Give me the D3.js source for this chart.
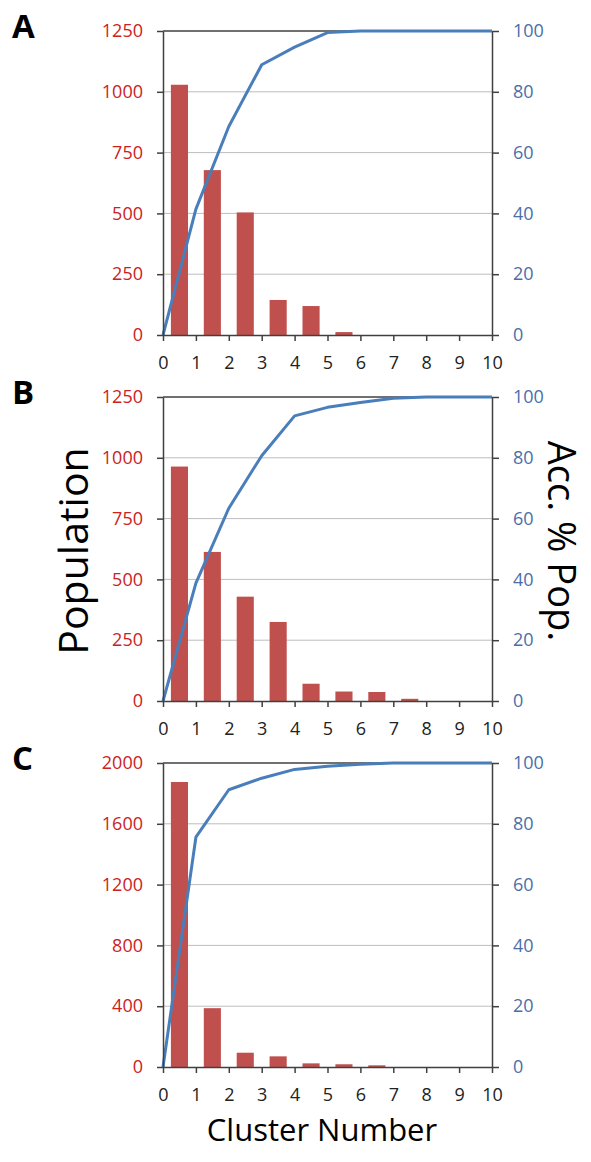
<!DOCTYPE html>
<html>
<head>
<meta charset="utf-8">
<script src="https://cdn.jsdelivr.net/npm/d3@7"></script>
<style>
  body { margin: 0; background: #fff; }
  svg { display: block; font-family: "Open Sans", sans-serif; }
</style>
</head>
<body>
<script>
// cluster numbers on the x axis
const clusterTicks = [0, 1, 2, 3, 4, 5, 6, 7, 8, 9, 10];
const barClusters = [0, 1, 2, 3, 4, 5, 6, 7, 8, 9];

// population per cluster (bars, left axis)
const popA = [1029, 678, 504, 144, 119, 12, 0, 0, 0, 0];
const popB = [964, 613, 429, 325, 71, 39, 37, 9, 0, 0];
const popC = [1875, 387, 94, 70, 24, 18, 11, 0, 0, 0];

// accumulated % population (line, right axis)
const accA = [0, 41.4, 68.6, 88.9, 94.7, 99.5, 100, 100, 100, 100, 100];
const accB = [0, 38.8, 63.4, 80.7, 93.8, 96.6, 98.2, 99.6, 100, 100, 100];
const accC = [0, 75.6, 91.2, 95.0, 97.9, 98.9, 99.6, 100, 100, 100, 100];

// tick labels
const popTicksAB = [0, 250, 500, 750, 1000, 1250];
const popTicksC = [0, 400, 800, 1200, 1600, 2000];
const accTicks = [0, 20, 40, 60, 80, 100];

const panelLetters = ["A", "B", "C"];

let svg = d3.select("body").append("svg")
  .attr("width", 591)
  .attr("height", 1162);

let left = 163, right = 492, plotH = 304;
let panelTops = [31, 397, 763];

let xScale = d3.scaleLinear().domain([0, 10]).range([left, right]);

function drawPanel(i, pop, acc, popTicks) {
  let top = panelTops[i];
  let bottom = top + plotH;
  let g = svg.append("g");

  let yPop = d3.scaleLinear().domain([0, popTicks[popTicks.length - 1]]).range([bottom, top]);
  let yAcc = d3.scaleLinear().domain([0, 100]).range([bottom, top]);

  // gridlines
  g.selectAll(".grid")
    .data(popTicks.slice(1, -1))
    .enter().append("line")
    .attr("x1", left).attr("x2", right)
    .attr("y1", d => yPop(d)).attr("y2", d => yPop(d))
    .attr("stroke", "#bdbdbd")
    .attr("stroke-width", 1);

  // top border
  g.append("line")
    .attr("x1", left).attr("x2", right)
    .attr("y1", top).attr("y2", top)
    .attr("stroke", "#404040")
    .attr("stroke-width", 1.5);

  // bars
  g.selectAll(".bar")
    .data(barClusters)
    .enter().append("rect")
    .filter(d => pop[d] > 0)
    .attr("x", d => xScale(d + 0.24))
    .attr("width", xScale(0.52) - xScale(0))
    .attr("y", d => yPop(pop[d]))
    .attr("height", d => bottom - yPop(pop[d]))
    .attr("fill", "#c0504d");

  // accumulated line
  let line = d3.line()
    .x((d, k) => xScale(clusterTicks[k]))
    .y(d => yAcc(d));
  g.append("path")
    .datum(acc)
    .attr("fill", "none")
    .attr("stroke", "#4a7ebb")
    .attr("stroke-width", 3)
    .attr("stroke-linejoin", "round")
    .attr("d", line);

  // left axis
  let leftAxis = g.append("g")
    .attr("transform", "translate(" + left + ",0)")
    .call(d3.axisLeft(yPop).tickValues(popTicks).tickFormat(d3.format("d"))
      .tickSize(6).tickSizeOuter(0).tickPadding(14));
  leftAxis.selectAll("text").attr("fill", "#cc2222");

  // right axis
  let rightAxis = g.append("g")
    .attr("transform", "translate(" + right + ",0)")
    .call(d3.axisRight(yAcc).tickValues(accTicks).tickFormat(d3.format("d"))
      .tickSize(7).tickSizeOuter(0).tickPadding(14));
  rightAxis.selectAll("text").attr("fill", "#4a6fa8");

  // bottom axis
  let bottomAxis = g.append("g")
    .attr("transform", "translate(0," + bottom + ")")
    .call(d3.axisBottom(xScale).tickValues(clusterTicks).tickFormat(d3.format("d"))
      .tickSize(6).tickSizeOuter(0).tickPadding(15));
  bottomAxis.selectAll("text").attr("fill", "#222");

  g.selectAll(".domain, .tick line")
    .attr("stroke", "#404040")
    .attr("stroke-width", 1.5);
  g.selectAll(".tick text")
    .attr("font-family", "'Open Sans', sans-serif")
    .attr("font-size", "18px");

  // panel letter
  svg.append("text")
    .attr("x", 12)
    .attr("y", top + 7)
    .style("font-size", "33px")
    .style("font-weight", "bold")
    .text(panelLetters[i]);
}

drawPanel(0, popA, accA, popTicksAB);
drawPanel(1, popB, accB, popTicksAB);
drawPanel(2, popC, accC, popTicksC);

// axis titles
svg.append("text")
  .attr("transform", "translate(88, 551)rotate(-90)")
  .attr("text-anchor", "middle")
  .style("font-size", "41px")
  .text("Population");

svg.append("text")
  .attr("transform", "translate(548, 541)rotate(90)")
  .attr("text-anchor", "middle")
  .style("font-size", "38px")
  .text("Acc. % Pop.");

svg.append("text")
  .attr("x", 322)
  .attr("y", 1141)
  .attr("text-anchor", "middle")
  .style("font-size", "31px")
  .text("Cluster Number");
</script>
</body>
</html>
